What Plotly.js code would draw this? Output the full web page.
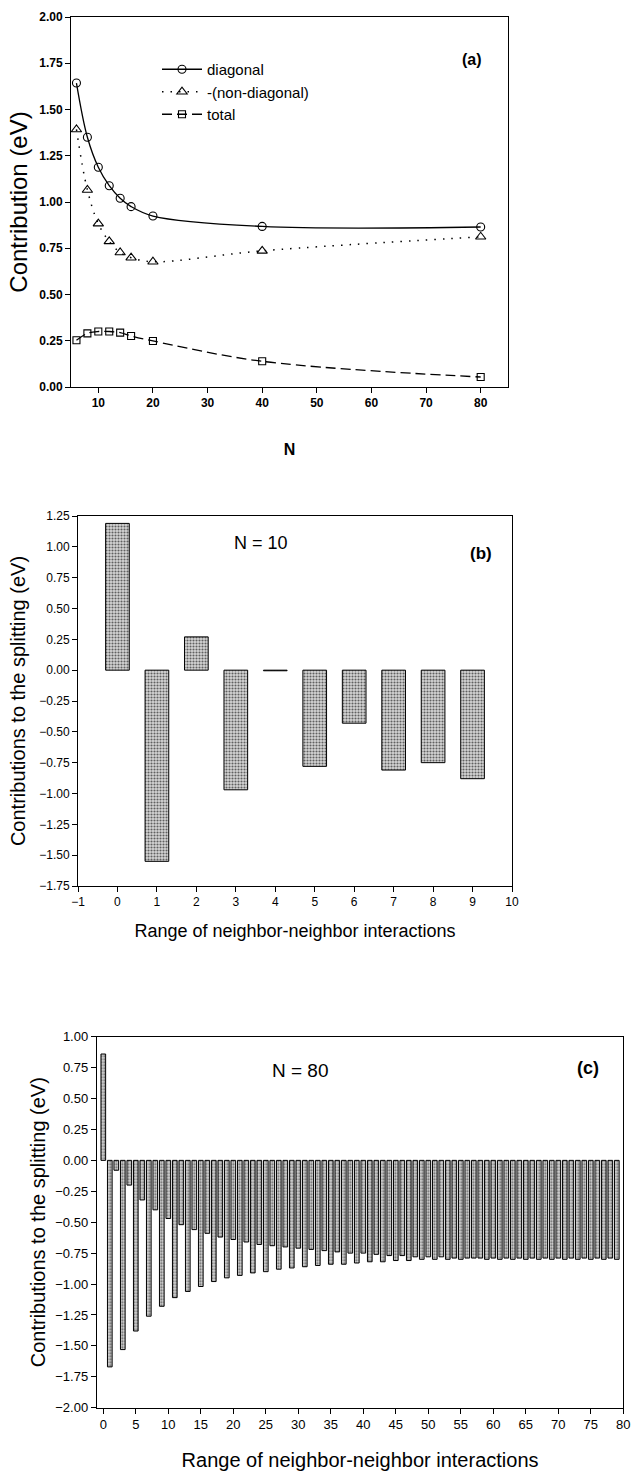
<!DOCTYPE html>
<html>
<head>
<meta charset="utf-8">
<script src="https://cdn.plot.ly/plotly-3.0.1.min.js"></script>
<style>
  html, body { margin: 0; padding: 0; background: #ffffff; }
  #chart { width: 634px; height: 1471px; }
</style>
</head>
<body>
<div id="chart"></div>
<script>
// ---------- Panel (a) ----------
const sizesN = [6, 8, 10, 12, 14, 16, 20, 40, 80];
const diagonal = [1.643, 1.35, 1.188, 1.088, 1.02, 0.975, 0.924, 0.868, 0.865];
const nonDiagonal = [1.392, 1.065, 0.883, 0.787, 0.727, 0.699, 0.677, 0.736, 0.812];
const total = [0.253, 0.29, 0.30, 0.30, 0.294, 0.276, 0.249, 0.139, 0.054];

// ---------- Panel (b) N = 10 ----------
const rangeB = [0, 1, 2, 3, 4, 5, 6, 7, 8, 9];
const contribB = [1.19, -1.55, 0.27, -0.97, -0.005, -0.78, -0.43, -0.81, -0.75, -0.88];

// ---------- Panel (c) N = 80 ----------
const rangeC = Array.from({length: 80}, (_, i) => i);
const contribC = [
   0.86, -1.67, -0.08, -1.53, -0.20, -1.38, -0.32, -1.26, -0.40, -1.18,
  -0.47, -1.11, -0.52, -1.06, -0.56, -1.02, -0.59, -0.98, -0.62, -0.95,
  -0.64, -0.93, -0.66, -0.91, -0.68, -0.90, -0.69, -0.88, -0.70, -0.87,
  -0.71, -0.86, -0.72, -0.85, -0.73, -0.84, -0.74, -0.84, -0.75, -0.83,
  -0.75, -0.82, -0.76, -0.82, -0.77, -0.81, -0.77, -0.81, -0.78, -0.80,
  -0.78, -0.80, -0.78, -0.80, -0.79, -0.80, -0.79, -0.79, -0.79, -0.80,
  -0.79, -0.80, -0.79, -0.80, -0.79, -0.80, -0.79, -0.80, -0.79, -0.80,
  -0.79, -0.80, -0.79, -0.80, -0.79, -0.80, -0.79, -0.80, -0.79, -0.80
];

const FONT = 'Liberation Sans, Arial, Helvetica, sans-serif';
const W = 634, H = 1471;
function px(x0, x1) { return [x0 / W, x1 / W]; }
function py(yTop, yBot) { return [1 - yBot / H, 1 - yTop / H]; }

const barPattern = { shape: '.', fgcolor: '#606060', bgcolor: '#d6d6d6', size: 3, solidity: 0.4 };

const traces = [
  {
    x: sizesN, y: diagonal, name: 'diagonal', type: 'scatter', mode: 'lines+markers',
    line: { color: '#000', width: 1.3, shape: 'spline', smoothing: 1 },
    marker: { symbol: 'circle-open', size: 8, color: '#000', line: { width: 1.1, color: '#000' } },
    xaxis: 'x', yaxis: 'y'
  },
  {
    x: sizesN, y: nonDiagonal, name: '-(non-diagonal)', type: 'scatter', mode: 'lines+markers',
    line: { color: '#000', width: 1.5, dash: '1.5px,7px', shape: 'spline', smoothing: 1 },
    marker: { symbol: 'triangle-up-open', size: 9, color: '#000', line: { width: 1.1, color: '#000' } },
    xaxis: 'x', yaxis: 'y'
  },
  {
    x: sizesN, y: total, name: 'total', type: 'scatter', mode: 'lines+markers',
    line: { color: '#000', width: 1.3, dash: '10px,5px', shape: 'spline', smoothing: 1 },
    marker: { symbol: 'square-open', size: 7, color: '#000', line: { width: 1.1, color: '#000' } },
    xaxis: 'x', yaxis: 'y'
  },
  {
    x: rangeB, y: contribB, type: 'bar', width: 0.6, showlegend: false,
    marker: { color: '#b0b0b0', pattern: barPattern, line: { color: '#000', width: 1 } },
    xaxis: 'x2', yaxis: 'y2'
  },
  {
    x: rangeC, y: contribC, type: 'bar', width: 0.72, showlegend: false,
    marker: { color: '#b0b0b0', pattern: barPattern, line: { color: '#000', width: 1 } },
    xaxis: 'x3', yaxis: 'y3'
  }
];

const axisCommon = {
  showline: true, linecolor: '#000', linewidth: 1, mirror: true,
  ticks: 'outside', ticklen: 5, tickwidth: 1, tickcolor: '#000',
  showgrid: false, zeroline: false, fixedrange: true
};

function label(text, xref, yref, x, y, size) {
  return { text: text, xref: xref, yref: yref, x: x, y: y, xanchor: 'center', yanchor: 'middle',
           showarrow: false, font: { family: FONT, size: size, color: '#000' } };
}

const layout = {
  width: W, height: H,
  margin: { l: 0, r: 0, t: 0, b: 0 },
  paper_bgcolor: '#fff', plot_bgcolor: '#fff',
  font: { family: FONT, color: '#000', size: 12 },
  showlegend: true,
  legend: {
    x: 157 / W, y: 1 - 53 / H, xanchor: 'left', yanchor: 'top',
    bgcolor: 'rgba(0,0,0,0)', borderwidth: 0, itemwidth: 40,
    font: { family: FONT, size: 15, color: '#000' },
    tracegroupgap: 0
  },
  xaxis: Object.assign({}, axisCommon, {
    domain: px(71, 508), anchor: 'y', range: [5, 85], tick0: 0, dtick: 10,
    tickfont: { family: FONT, size: 12, weight: 'bold' },
    title: { text: '<b>N</b>', font: { family: FONT, size: 16 }, standoff: 34 }
  }),
  yaxis: Object.assign({}, axisCommon, {
    domain: py(17, 387), anchor: 'x', range: [0, 2], tick0: 0, dtick: 0.25, tickformat: '.2f',
    tickfont: { family: FONT, size: 12, weight: 'bold' },
    title: { text: 'Contribution (eV)', font: { family: FONT, size: 24 }, standoff: 4 }
  }),
  xaxis2: Object.assign({}, axisCommon, {
    domain: px(78, 512), anchor: 'y2', range: [-1, 10], tick0: -1, dtick: 1,
    tickfont: { family: FONT, size: 12 },
    title: { text: 'Range of neighbor-neighbor interactions', font: { family: FONT, size: 18 }, standoff: 15 }
  }),
  yaxis2: Object.assign({}, axisCommon, {
    domain: py(516, 886), anchor: 'x2', range: [-1.75, 1.25], tick0: 0, dtick: 0.25, tickformat: '.2f',
    tickfont: { family: FONT, size: 12 },
    title: { text: 'Contributions to the splitting (eV)', font: { family: FONT, size: 20 }, standoff: 8 }
  }),
  xaxis3: Object.assign({}, axisCommon, {
    domain: px(96.8, 623.3), anchor: 'y3', range: [-1, 80], tick0: 0, dtick: 5,
    tickfont: { family: FONT, size: 13 },
    title: { text: 'Range of neighbor-neighbor interactions', font: { family: FONT, size: 20 }, standoff: 23 }
  }),
  yaxis3: Object.assign({}, axisCommon, {
    domain: py(1036.7, 1407.7), anchor: 'x3', range: [-2, 1], tick0: 0, dtick: 0.25, tickformat: '.2f',
    tickfont: { family: FONT, size: 13 },
    title: { text: 'Contributions to the splitting (eV)', font: { family: FONT, size: 20 }, standoff: 4 }
  }),
  bargap: 0,
  annotations: [
    label('<b>(a)</b>', 'x domain', 'y domain', 0.918, 0.884, 16),
    label('N = 10', 'x2 domain', 'y2 domain', 0.422, 0.927, 18),
    label('<b>(b)</b>', 'x2 domain', 'y2 domain', 0.929, 0.90, 17),
    label('N = 80', 'x3 domain', 'y3 domain', 0.386, 0.908, 19),
    label('<b>(c)</b>', 'x3 domain', 'y3 domain', 0.933, 0.916, 18)
  ]
};

Plotly.newPlot('chart', traces, layout, { staticPlot: true, displayModeBar: false });
</script>
</body>
</html>
